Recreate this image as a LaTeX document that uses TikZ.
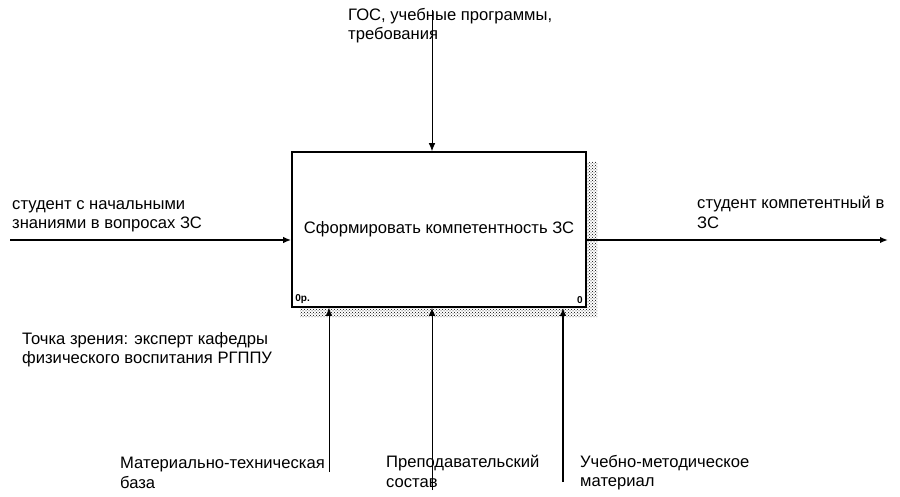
\documentclass[tikz,border=0pt]{standalone}
\usepackage{fontspec}
\setmainfont{Liberation Sans}
\usetikzlibrary{arrows.meta, positioning, patterns}

\begin{document}
\begin{tikzpicture}[
    x=1pt, y=-1pt,
    font=\fontsize{16.6}{19.5}\selectfont,
    func/.style={rectangle, draw=black, line width=1.6pt, fill=white,
                 minimum width=294pt, minimum height=155pt, align=center,
                 inner sep=0pt},
    lbl/.style={anchor=north west, align=left, inner sep=0pt},
    corner/.style={inner sep=0pt, font=\fontsize{10}{10}\selectfont\bfseries},
    arr/.style={-{Latex[length=8pt, width=6.5pt]}, line width=0.8pt, black},
    thick arr/.style={arr, line width=1.6pt}
  ]
    \useasboundingbox (0,0) rectangle (900,497);

    %% ── Shadow of the function block
    \fill[pattern=crosshatch dots, pattern color=black]
         (587,162) -- (597,162) -- (597,317) -- (300,317) -- (300,308)
         -- (587,308) -- cycle;

    %% ── Function block
    \node[func] (box) at (439,229.5) {\raisebox{4pt}{Сформировать компетентность ЗС}};
    \node[corner, anchor=south west] (num)  at ([xshift=4pt, yshift=4pt]box.south west) {0р.};
    \node[corner, anchor=south east] (cost) at ([xshift=-4pt, yshift=4pt]box.south east) {0};

    %% ── Free ends of the arrows
    \coordinate (ctl) at (432,10);
    \coordinate (inp) at (10,240);
    \coordinate (out) at (888,240);
    \coordinate (m1)  at (329,472);
    \coordinate (m2)  at (432,490);
    \coordinate (m3)  at (563,482);

    %% ── Labels
    \node[lbl] (ctltxt) at (348,8)   {ГОС, учебные программы,\\требования};
    \node[lbl] (inptxt) at (12,200)  {студент с начальными\\знаниями в вопросах ЗС};
    \node[lbl] (outtxt) at (697,196) {студент компетентный в\\ЗС};
    \node[lbl] (view)   at (22,332)  {Точка зрения: эксперт кафедры\\физического воспитания РГППУ};
    \node[lbl] (m1txt)  at (120,457) {Материально-техническая\\база};
    \node[lbl] (m2txt)  at (386,455) {Преподавательский\\состав};
    \node[lbl] (m3txt)  at (580,455) {Учебно-методическое\\материал};

    %% Arrows: control, input, output
    \draw[arr] (ctl) -- (ctl |- box.north);
    \draw[thick arr] (inp) -- (inp -| box.west);
    \draw[thick arr] (out -| box.east) -- (out);

    %% Arrows: mechanisms
    \draw[arr] (m1) -- (m1 |- box.south);
    \draw[arr] (m2) -- (m2 |- box.south);
    \draw[thick arr] (m3) -- (m3 |- box.south);

  \end{tikzpicture}
\end{document}
